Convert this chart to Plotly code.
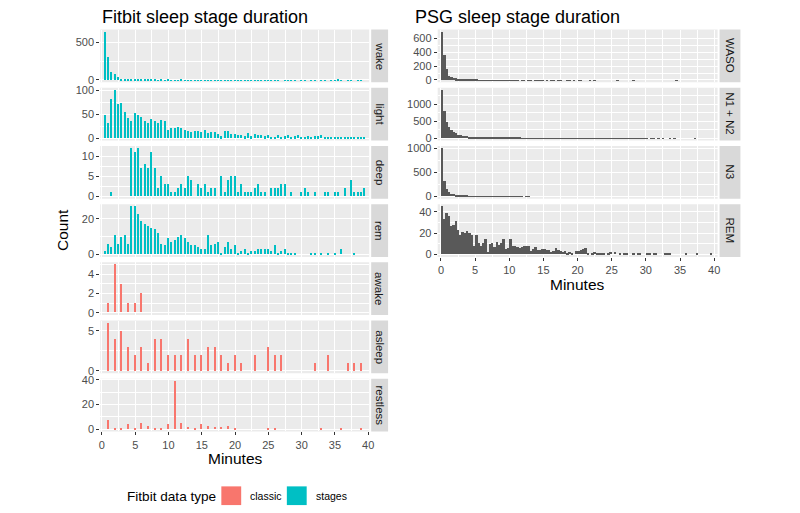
import numpy as np
import plotly.graph_objects as go

W, H = 800, 513
FONT = "Liberation Sans, Arial, sans-serif"
CLASSIC = "#F8766D"
STAGES = "#00BFC4"
PSG = "#595959"

# ---------------- data ----------------
stage_minutes = np.arange(1, 80) * 0.5          # 30-s epoch bins 0.5 .. 39.5
classic_minutes = np.arange(1, 40)              # 1 .. 39
psg_minutes = (np.arange(120) + 0.5) / 3        # 20-s bins

wake = [635, 305, 110, 80, 45, 22, 18, 18, 13, 12,
        10, 10, 6, 8, 5, 6, 4, 5, 4, 6,
        3, 4, 3, 5, 3, 4, 2, 3, 4, 2,
        3, 2, 3, 2, 4, 2, 1, 2, 3, 1,
        2, 2, 1, 3, 1, 2, 1, 2, 1, 1,
        4, 1, 2, 0, 1, 1, 2, 1, 0, 1,
        1, 0, 3, 1, 0, 1, 1, 0, 1, 1,
        5, 1, 0, 1, 1, 0, 1, 1, 0]
light = [48, 32, 82, 100, 72, 73, 55, 42, 36, 52,
         48, 45, 37, 33, 40, 37, 33, 38, 36, 17,
         21, 22, 23, 22, 18, 15, 13, 15, 15, 13,
         18, 12, 13, 13, 10, 4, 15, 16, 10, 9,
         7, 7, 4, 12, 4, 10, 6, 7, 4, 7,
         3, 3, 6, 1, 4, 6, 3, 4, 6, 3,
         3, 4, 3, 4, 4, 6, 3, 1, 1, 3,
         2, 3, 3, 2, 3, 3, 2, 3, 3]
deep = [0, 0, 1, 0, 0, 0, 0, 0, 12, 11,
        12, 7, 8, 7, 11, 7, 2, 5, 3, 3,
        1, 1, 2, 3, 2, 5, 4, 0, 3, 2,
        3, 1, 2, 2, 0, 5, 1, 4, 5, 5,
        1, 3, 1, 1, 1, 2, 3, 1, 1, 0,
        2, 2, 2, 3, 3, 0, 1, 0, 0, 1,
        2, 1, 0, 1, 0, 0, 1, 1, 0, 1,
        1, 0, 2, 0, 4, 1, 1, 1, 2]
rem = [2, 6, 4, 11, 6, 10, 11, 6, 27, 27,
       23, 19, 17, 16, 15, 14, 12, 6, 5, 9,
       7, 8, 10, 11, 9, 7, 5, 5, 4, 3,
       3, 11, 5, 6, 7, 1, 4, 7, 3, 5,
       1, 2, 3, 1, 2, 2, 3, 3, 3, 3,
       2, 5, 1, 2, 3, 1, 1, 1, 0, 0,
       0, 0, 1, 1, 0, 1, 0, 1, 0, 1,
       0, 3, 0, 0, 0, 1, 0, 0, 0]
awake = [1, 5, 3, 1, 1, 2, 0, 0, 0, 0,
         0, 0, 0, 0, 0, 0, 0, 0, 0, 0,
         0, 0, 0, 0, 0, 0, 0, 0, 0, 0,
         0, 0, 0, 0, 0, 0, 0, 0, 0]
asleep = [6, 4, 5, 3, 2, 3, 1, 4, 4, 2,
          2, 2, 4, 2, 2, 3, 3, 2, 1, 2,
          1, 0, 2, 0, 3, 2, 2, 0, 0, 0,
          0, 1, 0, 2, 0, 0, 1, 1, 1]
restless = [8, 1, 1, 4, 1, 5, 3, 1, 1, 4,
            39, 5, 2, 1, 4, 3, 2, 2, 3, 1,
            0, 0, 0, 0, 1, 1, 0, 0, 0, 0,
            0, 0, 1, 0, 0, 1, 0, 0, 1]

waso = [690, 370, 170, 70, 50, 38, 28, 24, 19, 15, 12, 10, 9, 8, 7,
        6, 5, 5, 4, 4, 3, 3, 3, 2, 3, 2, 2, 2, 1, 2,
        1, 1, 2, 1, 0, 1, 1, 0, 1, 1, 0, 1, 1, 2, 1,
        0, 1, 0, 1, 1, 0, 1, 1, 0, 0, 1, 1, 0, 1, 0,
        1, 1, 0, 0, 0, 1, 0, 1, 0, 0, 0, 0, 0, 0, 0,
        0, 0, 1, 0, 0, 0, 0, 0, 0, 1, 0, 0, 0, 0, 0,
        0, 0, 0, 0, 0, 0, 0, 0, 0, 0, 0, 0, 0, 1, 0,
        0, 0, 0, 0, 0, 0, 0, 0, 0, 0, 0, 0, 0, 0, 0]
n1n2 = [1420, 800, 485, 327, 250, 180, 150, 110, 90, 80, 70, 60, 55, 50, 45,
        42, 40, 36, 33, 30, 28, 26, 24, 22, 20, 19, 18, 17, 16, 15,
        14, 13, 12, 12, 11, 10, 10, 9, 8, 8, 8, 7, 7, 6, 6,
        6, 5, 5, 5, 4, 4, 4, 4, 3, 3, 3, 3, 3, 2, 2,
        2, 2, 2, 2, 2, 1, 2, 1, 1, 2, 1, 1, 1, 1, 2,
        1, 1, 1, 1, 1, 1, 1, 2, 1, 1, 1, 1, 1, 1, 1,
        1, 0, 1, 1, 0, 1, 0, 1, 0, 0, 1, 0, 1, 0, 0,
        0, 0, 0, 0, 0, 0, 1, 0, 0, 0, 0, 0, 0, 0, 0]
n3 = [1000, 330, 150, 93, 57, 43, 30, 20, 15, 12, 10, 8, 7, 6, 5,
      5, 4, 4, 3, 3, 3, 2, 3, 2, 2, 2, 2, 1, 2, 1,
      1, 2, 1, 1, 1, 1, 0, 1, 1, 0, 0, 0, 0, 0, 0,
      0, 0, 0, 0, 0, 0, 0, 0, 0, 0, 0, 0, 0, 0, 0,
      0, 0, 0, 0, 0, 0, 0, 0, 0, 0, 0, 0, 0, 0, 0,
      0, 0, 0, 0, 0, 0, 0, 0, 0, 0, 0, 0, 0, 0, 0,
      0, 0, 0, 0, 0, 0, 0, 0, 0, 0, 0, 0, 0, 0, 0,
      0, 0, 0, 0, 0, 0, 0, 0, 0, 0, 0, 0, 0, 0, 0]
psg_rem = [45, 33, 39, 36, 27, 28, 31, 23, 18, 21, 20, 22, 20, 18, 8,
           18, 11, 8, 11, 14, 2, 10, 11, 7, 12, 9, 11, 14, 5, 6,
           14, 8, 8, 7, 6, 7, 8, 8, 8, 3, 5, 7, 4, 4, 5,
           5, 4, 4, 2, 3, 6, 4, 3, 2, 3, 1, 2, 1, 0, 3,
           3, 4, 5, 6, 1, 0, 1, 2, 1, 1, 1, 1, 0, 1, 2,
           0, 2, 0, 1, 0, 1, 1, 0, 0, 1, 0, 1, 1, 0, 0,
           1, 1, 0, 1, 1, 0, 0, 0, 1, 1, 1, 0, 0, 0, 0,
           0, 0, 1, 0, 0, 0, 0, 1, 0, 0, 0, 0, 0, 1, 0]

x_ticks = [0, 5, 10, 15, 20, 25, 30, 35, 40]

# panel: (strip label, x, y, colour, major y ticks, minor y ticks)
left_panels = [
    ("wake", stage_minutes, wake, STAGES, [0, 500], [250]),
    ("light", stage_minutes, light, STAGES, [0, 50, 100], [25, 75]),
    ("deep", stage_minutes, deep, STAGES, [0, 5, 10], [2.5, 7.5, 12.5]),
    ("rem", stage_minutes, rem, STAGES, [0, 20], [10]),
    ("awake", classic_minutes, awake, CLASSIC, [0, 2, 4], [1, 3, 5]),
    ("asleep", classic_minutes, asleep, CLASSIC, [0, 5], [2.5]),
    ("restless", classic_minutes, restless, CLASSIC, [0, 20, 40], [10, 30]),
]
right_panels = [
    ("WASO", psg_minutes, waso, PSG, [0, 200, 400, 600], [100, 300, 500]),
    ("N1 + N2", psg_minutes, n1n2, PSG, [0, 500, 1000], [250, 750, 1250]),
    ("N3", psg_minutes, n3, PSG, [0, 500, 1000], [250, 750]),
    ("REM", psg_minutes, psg_rem, PSG, [0, 20, 40], [10, 30]),
]

fig = go.Figure()
layout = {}
annotations = []
shapes = []


def fy(y):
    return 1 - y / H


def fx(x):
    return x / W


PANEL_H = 53.6
GAP = 5.5
TOP0 = 25.0
TICK_FONT = dict(size=11, color="#4D4D4D", family=FONT)
idx = [0]


def add_column(panels, x0, x1, strip0, strip1, xrange, width):
    n = len(panels)
    for i, (label, xs, ys, color, ymaj, ymin) in enumerate(panels):
        idx[0] += 1
        k = idx[0]
        ax = "" if k == 1 else str(k)
        top = TOP0 + i * (PANEL_H + GAP)
        bot = top + PANEL_H
        m = max(ys)
        fig.add_trace(go.Bar(x=xs, y=ys, width=width, marker=dict(color=color, line=dict(width=0)),
                             xaxis="x" + ax, yaxis="y" + ax, showlegend=False,
                             hovertemplate=label + ": %{x} min, %{y}<extra></extra>"))
        is_bottom = i == n - 1
        layout["xaxis" + ax] = dict(
            domain=[fx(x0), fx(x1)], anchor="y" + ax, range=xrange,
            tickvals=x_ticks, showticklabels=is_bottom,
            ticks="outside" if is_bottom else "", ticklen=3, tickwidth=1, tickcolor="#333333",
            tickfont=TICK_FONT,
            showgrid=True, gridcolor="white", gridwidth=1.1, zeroline=False, showline=False,
            minor=dict(tick0=2.5, dtick=5, showgrid=True, gridcolor="white", gridwidth=0.5, ticks=""),
            fixedrange=True,
        )
        layout["yaxis" + ax] = dict(
            domain=[fy(bot), fy(top)], anchor="x" + ax, range=[-0.05 * m, 1.05 * m],
            tickvals=ymaj, ticktext=[str(v) for v in ymaj],
            ticks="outside", ticklen=3, tickwidth=1, tickcolor="#333333",
            tickfont=TICK_FONT,
            showgrid=True, gridcolor="white", gridwidth=1.1, zeroline=False, showline=False,
            minor=dict(tickvals=ymin, showgrid=True, gridcolor="white", gridwidth=0.5, ticks=""),
            fixedrange=True,
        )
        shapes.append(dict(type="rect", xref="paper", yref="paper",
                           x0=fx(x0), x1=fx(x1), y0=fy(bot), y1=fy(top),
                           fillcolor="#EBEBEB", line=dict(width=0), layer="below"))
        shapes.append(dict(type="rect", xref="paper", yref="paper",
                           x0=fx(strip0), x1=fx(strip1), y0=fy(bot), y1=fy(top),
                           fillcolor="#D9D9D9", line=dict(width=0), layer="below"))
        annotations.append(dict(text=label, x=fx((strip0 + strip1) / 2), y=fy((top + bot) / 2),
                                xref="paper", yref="paper", showarrow=False, textangle=90,
                                font=dict(size=11.5, color="#1A1A1A", family=FONT),
                                xanchor="center", yanchor="middle"))


add_column(left_panels, 100, 371, 373, 390, [-0.25, 40.15], 0.2)
add_column(right_panels, 440, 722, 724, 745, [-0.48, 40.5], 0.29)

# titles and axis titles
annotations += [
    dict(text="Fitbit sleep stage duration", x=fx(100), y=fy(12), xanchor="left", yanchor="middle",
         font=dict(size=18, color="black", family=FONT)),
    dict(text="PSG sleep stage duration", x=fx(415), y=fy(12), xanchor="left", yanchor="middle",
         font=dict(size=18, color="black", family=FONT)),
    dict(text="Count", x=fx(62), y=fy(229), textangle=-90, xanchor="center", yanchor="middle",
         font=dict(size=15.5, color="black", family=FONT)),
    dict(text="Minutes", x=fx(236), y=fy(461), xanchor="center", yanchor="middle",
         font=dict(size=15.5, color="black", family=FONT)),
    dict(text="Minutes", x=fx(581), y=fy(284), xanchor="center", yanchor="middle",
         font=dict(size=15.5, color="black", family=FONT)),
    dict(text="Fitbit data type", x=fx(125), y=fy(499), xanchor="left", yanchor="middle",
         font=dict(size=13.6, color="black", family=FONT)),
    dict(text="classic", x=fx(249), y=fy(499), xanchor="left", yanchor="middle",
         font=dict(size=10.5, color="black", family=FONT)),
    dict(text="stages", x=fx(315), y=fy(499), xanchor="left", yanchor="middle",
         font=dict(size=10.5, color="black", family=FONT)),
]
for a in annotations:
    a.setdefault("xref", "paper")
    a.setdefault("yref", "paper")
    a.setdefault("showarrow", False)

# legend keys
shapes += [
    dict(type="rect", xref="paper", yref="paper", x0=fx(222), x1=fx(242), y0=fy(508), y1=fy(489),
         fillcolor=CLASSIC, line=dict(width=0)),
    dict(type="rect", xref="paper", yref="paper", x0=fx(288), x1=fx(308), y0=fy(508), y1=fy(489),
         fillcolor=STAGES, line=dict(width=0)),
]

fig.update_layout(
    width=W, height=H, margin=dict(l=0, r=0, t=0, b=0),
    paper_bgcolor="white", plot_bgcolor="rgba(0,0,0,0)",
    bargap=0, showlegend=False,
    annotations=annotations, shapes=shapes,
    font=dict(family=FONT),
    **layout,
)

fig.write_html("out.html", config={"displayModeBar": False},
               post_script="document.body.style.margin='0';document.body.style.overflow='hidden';")
